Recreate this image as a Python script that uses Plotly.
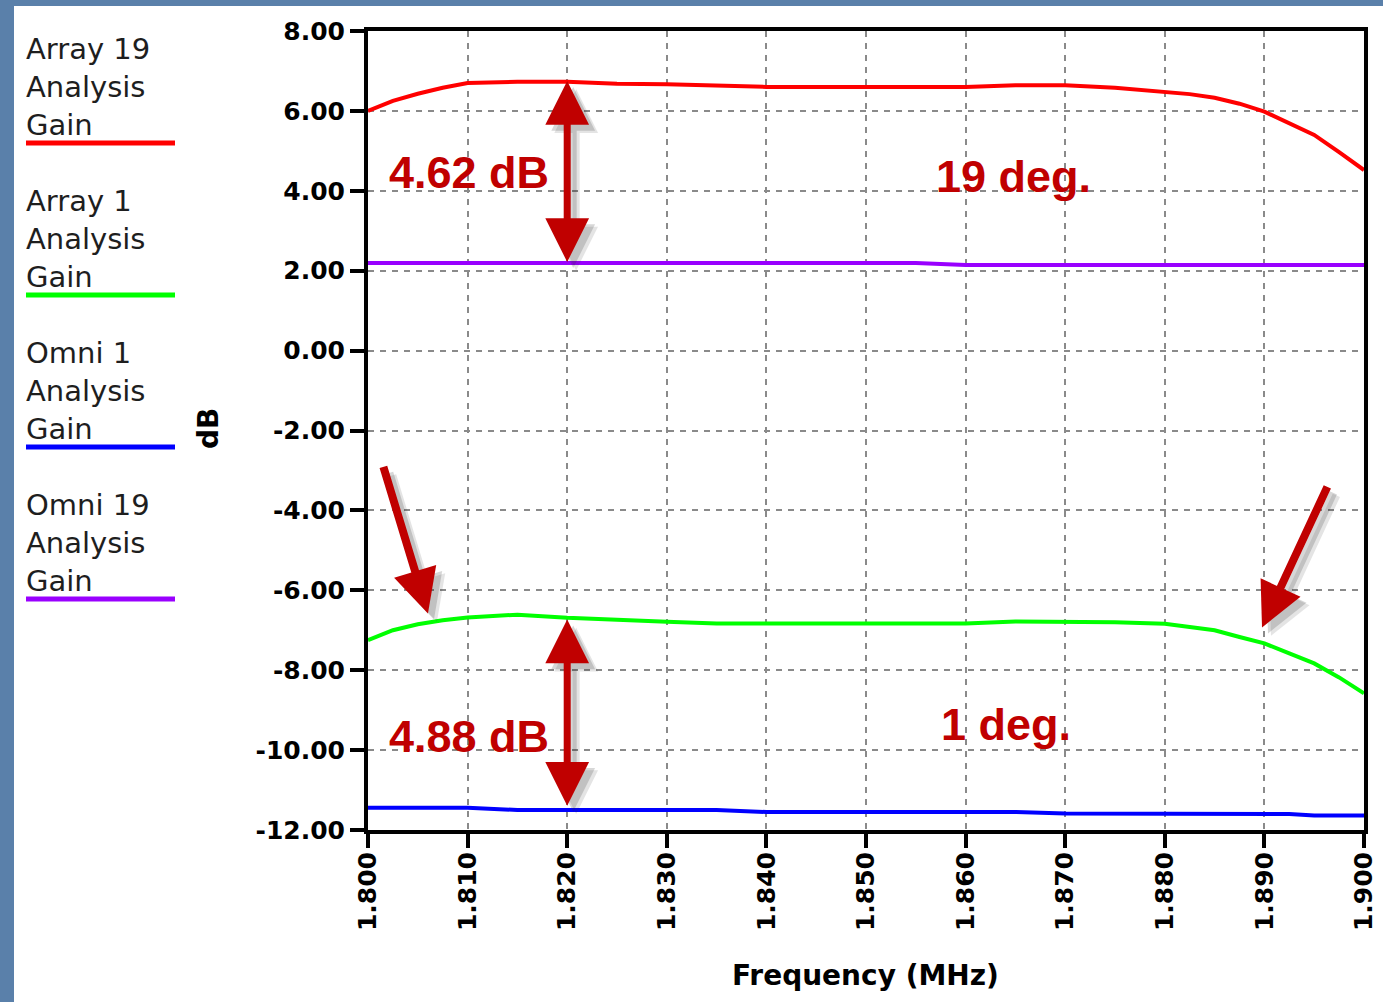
import plotly.graph_objects as go

# ---------------- data ----------------
freq = [1.800, 1.8025, 1.805, 1.8075, 1.810, 1.815, 1.820, 1.825, 1.830, 1.835,
        1.840, 1.845, 1.850, 1.855, 1.860, 1.865, 1.870, 1.875, 1.880, 1.8825,
        1.885, 1.8875, 1.890, 1.8925, 1.895, 1.8975, 1.900]

array19_gain = [6.00, 6.25, 6.43, 6.58, 6.70, 6.73, 6.73, 6.68, 6.67, 6.64,
                6.60, 6.60, 6.60, 6.60, 6.60, 6.64, 6.64, 6.58, 6.48, 6.42,
                6.33, 6.18, 5.98, 5.70, 5.40, 4.97, 4.52]

array1_gain = [-7.25, -7.00, -6.85, -6.75, -6.68, -6.61, -6.69, -6.75, -6.79, -6.83,
               -6.83, -6.83, -6.83, -6.83, -6.83, -6.78, -6.78, -6.80, -6.84, -6.92,
               -7.00, -7.17, -7.33, -7.58, -7.83, -8.18, -8.58]

omni1_gain = [-11.44, -11.44, -11.44, -11.44, -11.44, -11.50, -11.50, -11.50, -11.50, -11.50,
              -11.55, -11.55, -11.55, -11.55, -11.55, -11.55, -11.59, -11.59, -11.59, -11.59,
              -11.59, -11.59, -11.59, -11.60, -11.64, -11.64, -11.64]

omni19_gain = [2.19, 2.19, 2.19, 2.19, 2.19, 2.19, 2.19, 2.19, 2.19, 2.19,
               2.19, 2.19, 2.19, 2.19, 2.14, 2.14, 2.14, 2.14, 2.14, 2.14,
               2.14, 2.14, 2.14, 2.14, 2.14, 2.14, 2.14]

series_names = ["Array 19 Analysis Gain", "Array 1 Analysis Gain",
                "Omni 1 Analysis Gain", "Omni 19 Analysis Gain"]
series_values = [array19_gain, array1_gain, omni1_gain, omni19_gain]
series_colors = ["#ff0000", "#00ff00", "#0000ff", "#9900ff"]

x_ticks = [1.80, 1.81, 1.82, 1.83, 1.84, 1.85, 1.86, 1.87, 1.88, 1.89, 1.90]
x_tick_labels = ["1.800", "1.810", "1.820", "1.830", "1.840", "1.850",
                 "1.860", "1.870", "1.880", "1.890", "1.900"]
y_ticks = [-12, -10, -8, -6, -4, -2, 0, 2, 4, 6, 8]
y_tick_labels = ["-12.00", "-10.00", "-8.00", "-6.00", "-4.00", "-2.00",
                 "0.00", "2.00", "4.00", "6.00", "8.00"]

# annotation values (gain differences at 1.820 MHz)
note_freq = 1.82
upper_pair = (6.75, 2.18)
lower_pair = (-6.73, -11.43)

# ---------------- layout geometry ----------------
W, H = 1383, 1002
L, R, T, B = 368, 1364, 31, 830


def px2x(px):
    return (px - L) / (R - L)


def py2y(py):
    return (B - py) / (B - T)


fig = go.Figure()
for name, vals, col in zip(series_names, series_values, series_colors):
    fig.add_trace(go.Scatter(x=freq, y=vals, mode="lines", name=name,
                             line=dict(color=col, width=4), showlegend=False))

DARK_RED = "#c00000"
annotations = []
shapes = []

# white slide panel over blue background
shapes.append(dict(type="rect", xref="paper", yref="paper",
                   x0=px2x(14), x1=px2x(1450), y0=py2y(1100), y1=py2y(6),
                   fillcolor="white", line=dict(width=0), layer="below"))

# custom legend on the left
legend_font = dict(family="DejaVu Sans", size=29, color="#1e1e1e")
for k, (name, col) in enumerate(zip(series_names, series_colors)):
    words = name.split(" ")
    lines = [" ".join(words[:2]), words[2], words[3]]
    for j, txt in enumerate(lines):
        annotations.append(dict(text=txt, xref="paper", yref="paper",
                                x=px2x(24), y=py2y(49 + 152 * k + 38 * j),
                                xanchor="left", yanchor="middle", showarrow=False,
                                font=legend_font))
    shapes.append(dict(type="line", xref="paper", yref="paper",
                       x0=px2x(26), x1=px2x(175), y0=py2y(143 + 152 * k), y1=py2y(143 + 152 * k),
                       line=dict(color=col, width=5)))

# axis titles
title_font = dict(family="DejaVu Sans", size=28, color="black", weight="bold")
annotations.append(dict(text="Frequency (MHz)", xref="paper", yref="paper",
                        x=px2x(865), y=py2y(975), showarrow=False,
                        xanchor="center", yanchor="middle", font=title_font))
annotations.append(dict(text="dB", xref="paper", yref="paper", textangle=-90,
                        x=px2x(208), y=py2y(429), showarrow=False,
                        xanchor="center", yanchor="middle", font=title_font))

# red labels
label_font = dict(family="Liberation Sans", size=45, color=DARK_RED, weight="bold")
for txt, xx, yy in [("4.62 dB", 1.8101, 4.45), ("19 deg.", 1.8648, 4.36),
                    ("4.88 dB", 1.8101, -9.67), ("1 deg.", 1.8641, -9.37)]:
    annotations.append(dict(text=txt, x=xx, y=yy, xref="x", yref="y",
                            showarrow=False, font=label_font,
                            xanchor="center", yanchor="middle"))

# arrows (soft shadow first, then arrow)
shadow_layers = [(0.0009, -0.21, "rgba(40,40,40,0.12)"),
                 (0.0006, -0.15, "rgba(40,40,40,0.18)")]


def add_arrow(tip, tail, width, size, both):
    layers = [(dx, dy, c) for dx, dy, c in shadow_layers] + [(0, 0, DARK_RED)]
    for dx, dy, color in layers:
        a = dict(x=tip[0] + dx, y=tip[1] + dy, ax=tail[0] + dx, ay=tail[1] + dy,
                 xref="x", yref="y", axref="x", ayref="y", text="",
                 showarrow=True, arrowhead=2, arrowsize=size, arrowwidth=width,
                 arrowcolor=color)
        if both:
            a.update(arrowside="end+start", startarrowhead=2, startarrowsize=size)
        annotations.append(a)


add_arrow((note_freq, upper_pair[0]), (note_freq, upper_pair[1]), 7, 1.25, True)
add_arrow((note_freq, lower_pair[0]), (note_freq, lower_pair[1]), 7, 1.25, True)
add_arrow((1.80602, -6.58), (1.8015, -2.875), 8, 1.1, False)
add_arrow((1.88976, -6.93), (1.89639, -3.375), 8, 1.1, False)

tick_font = dict(family="DejaVu Sans", size=25, color="black", weight="bold")
grid_common = dict(showgrid=True, gridcolor="#8a8a8a", gridwidth=1.5, griddash="6px,6px",
                   showline=True, linecolor="black", linewidth=4, mirror=True,
                   ticks="outside", ticklen=14, tickwidth=4, tickcolor="black",
                   zeroline=False, automargin=False, tickfont=tick_font)

fig.update_layout(
    template="none",
    width=W, height=H,
    margin=dict(l=L, r=W - R, t=T, b=H - B, pad=0),
    paper_bgcolor="#5a80aa",
    plot_bgcolor="white",
    showlegend=False,
    xaxis=dict(range=[1.8, 1.9], tickmode="array", tickvals=x_ticks, ticktext=x_tick_labels,
               tickangle=-90, ticklabelstandoff=-6, **grid_common),
    yaxis=dict(range=[-12, 8], tickmode="array", tickvals=y_ticks, ticktext=y_tick_labels,
               **grid_common),
    annotations=annotations,
    shapes=shapes,
)

fig.write_html("out.html", config={"displayModeBar": False},
               post_script="document.body.style.margin='0';")
